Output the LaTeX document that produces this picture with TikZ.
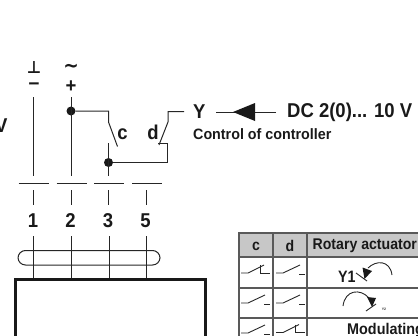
\documentclass[tikz,border=0pt]{standalone}
\usepackage{fontspec}
\setmainfont{Liberation Sans}
\newfontfamily\symf{DejaVu Sans}
\tikzset{
  wire/.style={line width=1pt,draw=black!85},
  dotn/.style={circle,fill=black!90,inner sep=0pt,minimum size=9pt},
  big/.style={font=\bfseries\fontsize{20}{20}\selectfont,text=black!90,inner sep=0pt,xscale=.925},
  small/.style={font=\bfseries\fontsize{15}{15}\selectfont,text=black!90,inner sep=0pt,anchor=west,xscale=.953},
  grid/.style={line width=1.4pt,draw=black!65},
  cont/.style={line width=0.9pt,draw=black!85},
  cell/.style={font=\bfseries\fontsize{15.5}{16}\selectfont,text=black!90,inner sep=0pt,xscale=.91},
}
\newcommand{\opn}[2]{\draw[cont] (#1+2,#2) -- (#1+9,#2) -- (#1+26,#2-8); \draw[cont] (#1+25,#2+1) -- (#1+31,#2+1);}
\newcommand{\cls}[2]{\draw[cont] (#1+2,#2) -- (#1+9,#2) -- (#1+25,#2-8); \draw[cont] (#1+21,#2-8) -- (#1+21,#2) -- (#1+31,#2);}
\begin{document}
\begin{tikzpicture}[x=1pt,y=-1pt]
\path[use as bounding box] (0,0) rectangle (418,335);
\begin{scope}
\clip (0,0) rectangle (418,335);
% top labels
\node[big,font=\symf\bfseries\fontsize{17}{17}\selectfont,xscale=1] (gnd) at (34,68) {⊥};
\node[big,font=\bfseries\fontsize{21}{21}\selectfont,xscale=1] (minus) at (34,86) {–};
\node[big,font=\symf\bfseries\fontsize{20}{20}\selectfont,xscale=1] (tilde) at (71,68) {\char"223C};
\node[big] (plus) at (71,87) {+};
\node[big,anchor=west] (vv) at (-5,126) {V};
% wires
\coordinate (w1t) at (33.5,97); \coordinate (w1b) at (33.5,176);
\coordinate (w2t) at (71,97);   \coordinate (w2b) at (71,176);
\node[dotn] (d1) at (71,111) {};
\node[dotn] (d2) at (108.5,162.5) {};
\draw[wire] (w1t) -- (w1b);
\draw[wire] (w2t) -- (w2b);
\draw[wire] (d1) -- (108.5,111) -- (108.5,122) -- (117.5,146.5);
\draw[wire] (108.5,143) -- (108.5,176);
\draw[wire] (d2) -- (167.5,162.5) -- (167.5,143) -- (158,143);
\draw[wire] (159,145) -- (168,122) -- (168,111.5) -- (184,111.5);
\node[big,anchor=base] (c) at (122.5,139) {c};
\node[big,anchor=base] (d) at (153,139) {d};
% bars
\foreach \a/\b in {18.5/48.5,56.5/86.5,94/124,132/162} \draw[wire] (\a,183) -- (\b,183);
% short stubs
\foreach \x/\n in {33.5/1,71/2,108.5/3,146/5} {
  \draw[wire] (\x,190) -- (\x,205);
  \node[big] (n\n) at (\x-.5,221) {\n};
}
% capsule
\draw[wire,rounded corners=7.5pt] (18,250.5) rectangle (160,265);
\foreach \x in {33.5,71.5,109,146.5} \draw[wire] (\x,236) -- (\x,279);
% box
\draw[line width=3pt,draw=black!90] (15.5,340) -- (15.5,279) -- (205,279) -- (205,340);
% Y part
\node[big,anchor=west] (Y) at (193,112) {Y};
\node[big,anchor=west] (dc) at (287,112) {DC 2(0)... 10 V};
\node[small] (ctrl) at (193,134) {Control of controller};
\coordinate (ar) at (276,112); \coordinate (al) at (216,112);
\draw[wire] (ar) -- (al);
\fill[black!90] (233,112) -- (255,103) -- (255,121) -- cycle;
% table
\fill[black!22] (239,233) rectangle (418,257);
\draw[grid] (418,233) -- (239,233) -- (239,340);
\foreach \y in {257,288,318} \draw[grid] (239,\y) -- (418,\y);
\draw[grid] (273,233) -- (273,340);
\draw[grid] (307,233) -- (307,340);
\node[cell] (hc) at (256,246) {c};
\node[cell] (hd) at (290,245.5) {d};
\node[cell,anchor=west] (hr) at (312.5,245.5) {Rotary actuator};
% switch symbols
\cls{239}{273}\opn{274}{273}
\opn{239}{303}\opn{274}{303}
\opn{239}{333}\cls{274}{332.5}
% row 1
\node[cell,anchor=west,font=\bfseries\fontsize{16.5}{17}\selectfont,xscale=.95] (y1) at (338,276.5) {Y1};
\draw[cont] (356,273) -- (367,281);
\fill[black!90] (362.5,267.5) -- (372,271) -- (364.5,279) -- cycle;
\draw[cont] (368,268) .. controls (376,260) and (390,260) .. (392,275);
% row 2
\draw[cont] (343,306) .. controls (345,290) and (360,288) .. (369,298);
\fill[black!90] (367,297) -- (376,298) -- (372,307) -- cycle;
\draw[cont] (366,311) -- (376,304);
\node[font=\bfseries\fontsize{3.5}{3.5}\selectfont,text=black!80,inner sep=0pt] (y2) at (384,309.5) {Y2};
% row 3
\node[cell,anchor=west,xscale=1.02] (mod) at (347,331) {Modulating};
\end{scope}
\end{tikzpicture}
\end{document}
